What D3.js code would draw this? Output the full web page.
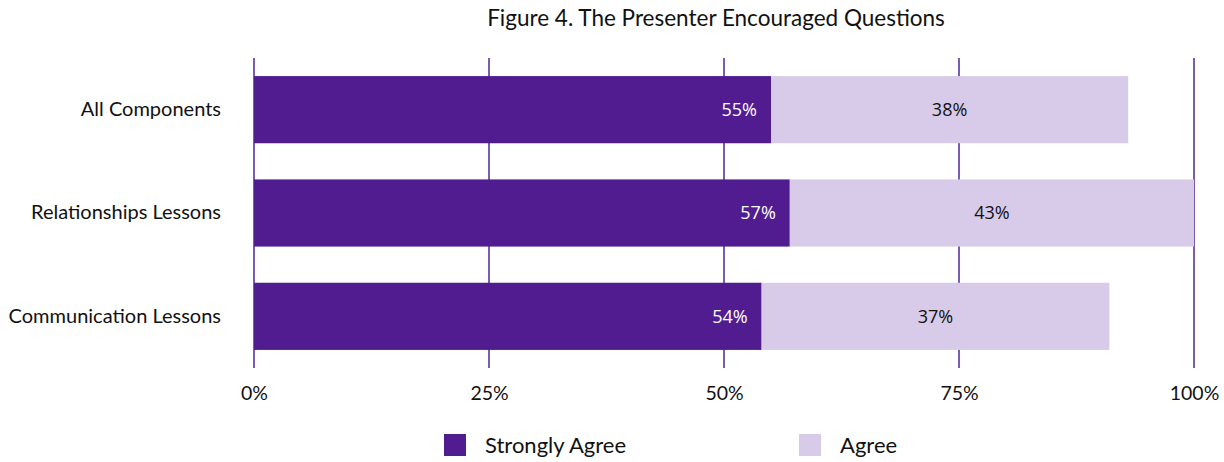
<!DOCTYPE html>
<html>
<head>
<meta charset="utf-8">
<script src="https://cdn.jsdelivr.net/npm/d3@7/dist/d3.min.js"></script>
<style>
  html, body { margin: 0; padding: 0; background: #fff; }
  svg { display: block; }
  text { font-family: Lato, "Open Sans", sans-serif; fill: #111; }
</style>
</head>
<body>
<svg id="chart" width="1224" height="462"></svg>
<script>
// Survey responses, share of respondents (%)
const categories = ["All Components", "Relationships Lessons", "Communication Lessons"];
const stronglyAgree = [55, 57, 54];
const agree = [38, 43, 37];
const seriesNames = ["Strongly Agree", "Agree"];
const tickValues = [0, 25, 50, 75, 100];
const title = "Figure 4. The Presenter Encouraged Questions";

const colors = { "Strongly Agree": "#521c91", "Agree": "#d8cbea" };
const gridColor = "#7a5cb2";

const svg = d3.select("#chart");
const margin = { left: 254, right: 30, top: 58, bottom: 94 };
const W = 1224, H = 462;

const x = d3.scaleLinear().domain([0, 100]).range([margin.left, W - margin.right]);
const y = d3.scaleBand().domain(categories).range([margin.top, H - margin.bottom]).paddingInner(0.35).paddingOuter(0.175);

// Title
svg.append("text")
  .attr("x", (x(0) + x(100)) / 2 - 8)
  .attr("y", 26)
  .attr("text-anchor", "middle")
  .style("font-size", "22.5px")
  .text(title);

// Vertical gridlines
svg.append("g").selectAll("line")
  .data(tickValues)
  .join("line")
  .attr("x1", d => x(d)).attr("x2", d => x(d))
  .attr("y1", margin.top).attr("y2", H - margin.bottom)
  .attr("stroke", gridColor)
  .attr("stroke-width", 2);

// Stacked rows
const rows = categories.map((c, i) => ({ cat: c, sa: stronglyAgree[i], a: agree[i] }));

const g = svg.append("g");
g.selectAll("rect.sa")
  .data(rows).join("rect").attr("class", "sa")
  .attr("x", x(0)).attr("y", d => y(d.cat))
  .attr("width", d => x(d.sa) - x(0)).attr("height", y.bandwidth())
  .attr("fill", colors["Strongly Agree"]);

g.selectAll("rect.a")
  .data(rows).join("rect").attr("class", "a")
  .attr("x", d => x(d.sa)).attr("y", d => y(d.cat))
  .attr("width", d => x(d.sa + d.a) - x(d.sa)).attr("height", y.bandwidth())
  .attr("fill", colors["Agree"]);

// Value labels
g.selectAll("text.sa")
  .data(rows).join("text").attr("class", "sa")
  .attr("x", d => x(d.sa) - 14)
  .attr("y", d => y(d.cat) + y.bandwidth() / 2)
  .attr("dy", "0.35em")
  .attr("text-anchor", "end")
  .style("font-family", "'Open Sans', sans-serif")
  .style("font-size", "18px")
  .style("fill", "#fff")
  .text(d => d.sa + "%");

g.selectAll("text.a")
  .data(rows).join("text").attr("class", "a")
  .attr("x", d => (x(d.sa) + x(d.sa + d.a)) / 2)
  .attr("y", d => y(d.cat) + y.bandwidth() / 2)
  .attr("dy", "0.35em")
  .attr("text-anchor", "middle")
  .style("font-family", "'Open Sans', sans-serif")
  .style("font-size", "18px")
  .style("fill", "#111")
  .text(d => d.a + "%");

// Category axis
const yAxis = svg.append("g")
  .attr("transform", `translate(${margin.left - 33},0)`)
  .call(d3.axisLeft(y).tickSize(0).tickPadding(0));
yAxis.select(".domain").remove();
yAxis.selectAll("text").style("font-size", "20px").style("font-family", "Lato, sans-serif").attr("fill", "#111");

// Percent axis
const xAxis = svg.append("g")
  .attr("transform", `translate(0,${H - margin.bottom})`)
  .call(d3.axisBottom(x).tickValues(tickValues).tickFormat(d => d + "%").tickSize(0).tickPadding(18));
xAxis.select(".domain").remove();
xAxis.selectAll("text").style("font-size", "19.5px").style("font-family", "Lato, sans-serif").attr("fill", "#111");

// Legend
const legendItems = [{ name: seriesNames[0], x: 444 }, { name: seriesNames[1], x: 799 }];
const leg = svg.append("g").selectAll("g").data(legendItems).join("g")
  .attr("transform", d => `translate(${d.x},434)`);
leg.append("rect").attr("width", 22).attr("height", 22).attr("fill", d => colors[d.name]);
leg.append("text").attr("x", 41).attr("y", 11).attr("dy", "0.35em")
  .style("font-size", "22px").text(d => d.name);
</script>
</body>
</html>
